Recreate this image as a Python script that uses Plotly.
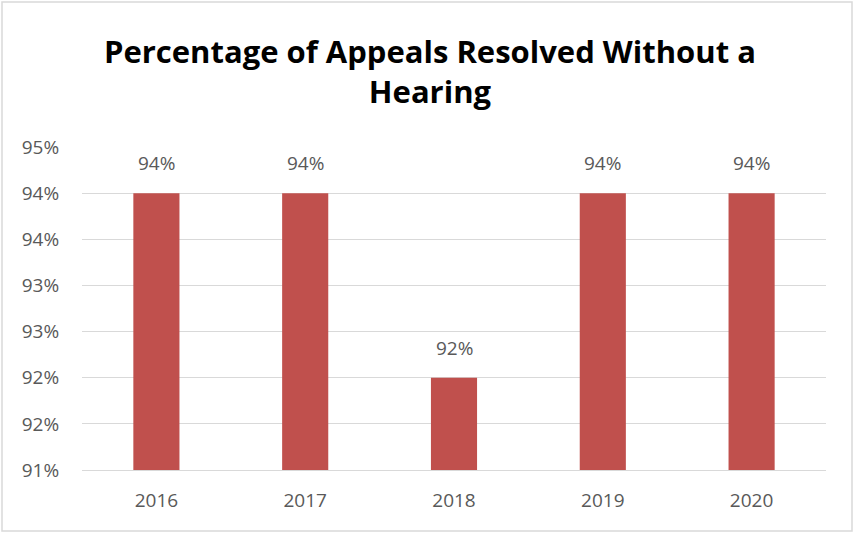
import plotly.graph_objects as go

years = ["2016", "2017", "2018", "2019", "2020"]
resolved_share = [0.94, 0.94, 0.92, 0.94, 0.94]

bar_color = "#C0504D"
axis_text = "#595959"
grid_color = "#D9D9D9"
font_family = "Open Sans"

ML, MR, MT, MB = 82, 28, 147, 63
PW, PH = 854 - ML - MR, 533 - MT - MB

fig = go.Figure(
    go.Bar(
        x=years,
        y=resolved_share,
        marker=dict(color=bar_color, line=dict(width=0)),
        width=0.31,
        hoverinfo="skip",
    )
)

# value labels floating above each bar (category index keeps
# the numeric-looking year names from being read as positions)
for i, v in enumerate(resolved_share):
    fig.add_annotation(
        x=i, y=v, text=f"{v:.0%}", showarrow=False,
        yanchor="bottom", yshift=15,
        font=dict(family=font_family, size=19, color=axis_text),
    )

# two-line chart title
fig.add_annotation(
    text="<b>Percentage of Appeals Resolved Without a<br>Hearing</b>",
    xref="paper", yref="paper", x=(430 - ML) / PW, y=1 + 76 / PH,
    xanchor="center", yanchor="middle", showarrow=False,
    font=dict(family=font_family, size=31, color="black"),
)

fig.update_layout(
    width=854, height=533,
    paper_bgcolor="white", plot_bgcolor="white",
    margin=dict(l=ML, r=MR, t=MT, b=MB),
    showlegend=False,
)

fig.update_yaxes(
    range=[0.91, 0.945], dtick=0.005, tick0=0.91, tickformat=".0%",
    showgrid=True, gridcolor=grid_color, gridwidth=1,
    zeroline=False, showline=False,
    ticks="outside", ticklen=18, tickcolor="rgba(0,0,0,0)",
    tickfont=dict(family=font_family, size=19, color=axis_text),
)
fig.update_xaxes(
    type="category", range=[-0.5, 4.5],
    showline=True, linecolor=grid_color, linewidth=1,
    ticks="outside", ticklen=13, tickcolor="rgba(0,0,0,0)",
    tickfont=dict(family=font_family, size=19, color=axis_text),
)

# thin chart border
fig.add_shape(
    type="rect", xref="paper", yref="paper",
    x0=-(ML - 2) / PW, x1=1 + (MR - 2) / PW,
    y0=-(MB - 2) / PH, y1=1 + (MT - 2) / PH,
    line=dict(color="#D9D9D9", width=1.5),
)

fig.write_html("out.html")
